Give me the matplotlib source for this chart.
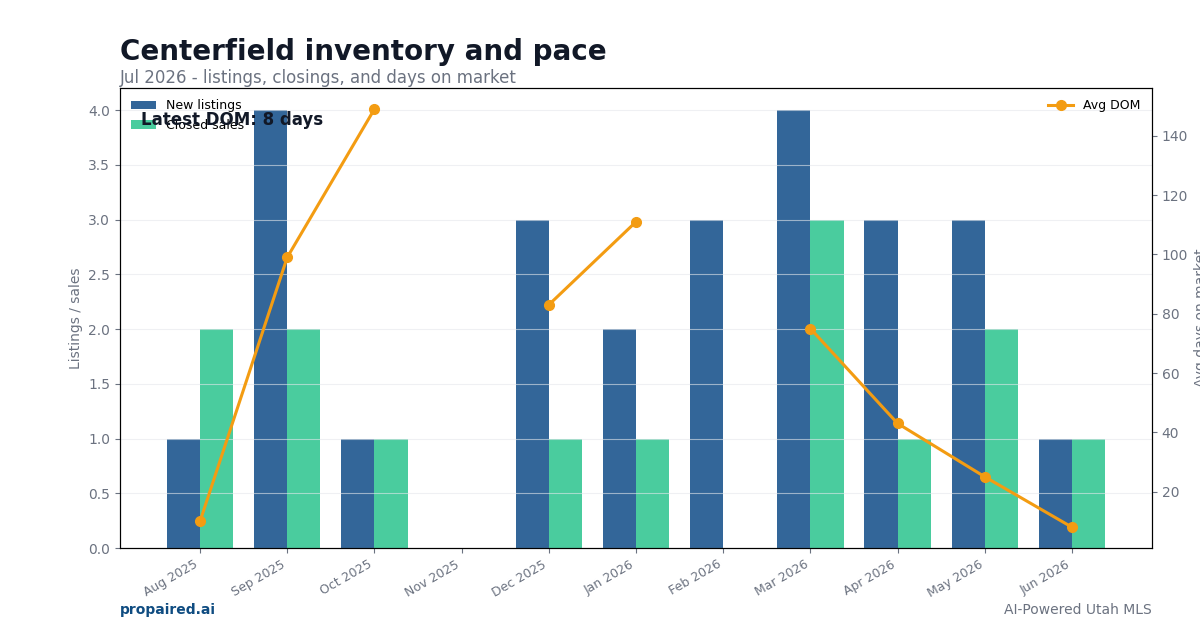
import numpy as np
import matplotlib.pyplot as plt

# monthly values
months = ["Aug 2025", "Sep 2025", "Oct 2025", "Nov 2025", "Dec 2025", "Jan 2026",
          "Feb 2026", "Mar 2026", "Apr 2026", "May 2026", "Jun 2026"]
new_listings = [1, 4, 1, 0, 3, 2, 3, 4, 3, 3, 1]
closed_sales = [2, 2, 1, 0, 1, 1, 0, 3, 1, 2, 1]
avg_dom = [10, 99, 149, np.nan, 83, 111, np.nan, 75, 43, 25, 8]

GRAY = "#6b7280"

fig = plt.figure(figsize=(12, 6.3), dpi=100)
ax = fig.add_axes([0.10, 0.13, 0.86, 0.73])

x = np.arange(len(months))
w = 0.38
ax.bar(x - w / 2, new_listings, w, color="#336699", label="New listings")
ax.bar(x + w / 2, closed_sales, w, color="#4acc9e", label="Closed sales")
ax.set_ylabel("Listings / sales", color=GRAY, fontsize=10)
ax.set_xticks(x)
ax.set_xticklabels(months, rotation=30, ha="right", color=GRAY, fontsize=9)
ax.tick_params(axis="y", colors=GRAY, labelsize=10)
ax.tick_params(axis="x", colors=GRAY)
ax.grid(axis="y", color="#e5e7eb", alpha=0.6)
ax.legend(loc="upper left", frameon=False, fontsize=9)

ax2 = ax.twinx()
ax2.plot(x, avg_dom, color="#f39c12", marker="o", lw=2.2, ms=7, label="Avg DOM")
ax2.set_ylabel("Avg days on market", color=GRAY, fontsize=10)
ax2.tick_params(axis="y", colors=GRAY, labelsize=10)
ax2.legend(loc="upper right", frameon=False, fontsize=9)

ax.text(0.02, 0.919, "Latest DOM: 8 days", transform=ax.transAxes, fontsize=12,
        fontweight="bold", color="#111827", zorder=10)

fig.text(0.10, 0.905, "Centerfield inventory and pace", fontsize=20, fontweight="bold",
         color="#111827")
fig.text(0.10, 0.868, "Jul 2026 - listings, closings, and days on market", fontsize=12,
         color=GRAY)
fig.text(0.10, 0.025, "propaired.ai", fontsize=10, fontweight="bold", color="#0f4c81")
fig.text(0.96, 0.025, "AI-Powered Utah MLS", fontsize=10, color=GRAY, ha="right")

fig.savefig("out.png", dpi=100)
